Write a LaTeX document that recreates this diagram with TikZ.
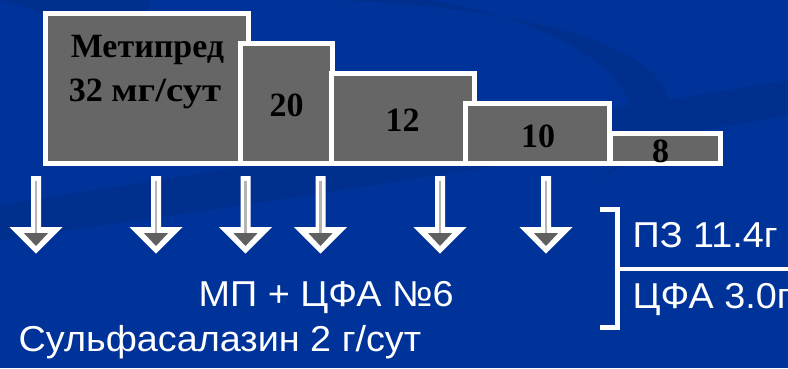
\documentclass[tikz,border=0pt]{standalone}
\usepackage{fontspec}
\setmainfont[FakeStretch=1.05]{Liberation Sans}
\newfontfamily\boxfont{Liberation Serif}
\definecolor{bgblue}{HTML}{003399}
\definecolor{bgdark}{HTML}{002F8E}
\definecolor{boxgray}{HTML}{666666}
\definecolor{headgray}{HTML}{606060}
\definecolor{stemgray}{HTML}{B4B4B4}
\tikzset{
  stepbox/.style={draw=white, line width=5pt, fill=boxgray, inner sep=0pt, line join=miter},
  boxtext/.style={font=\boxfont\bfseries\fontsize{34}{40}\selectfont, text=black, inner sep=0pt, anchor=base},
  wtext/.style={font=\fontsize{36}{42}\selectfont, text=white, inner sep=0pt, anchor=base west},
  arrowwhite/.style={fill=white},
  arrowhead/.style={fill=headgray},
  stemline/.style={fill=stemgray},
  bracketline/.style={draw=white, line width=5pt, line join=miter}
}
\begin{document}
\begin{tikzpicture}[x=1pt,y=-1pt]
% background
\fill[bgblue] (0,0) rectangle (788,368);
\useasboundingbox (0,0) rectangle (788,368);
\fill[bgdark] (330,0) .. controls (600,10) and (770,80) .. (600,180)
  .. controls (690,100) and (580,25) .. (430,0) -- cycle;
\fill[bgdark] (0,205) .. controls (250,165) and (550,120) .. (788,80)
  -- (788,115) .. controls (550,160) and (250,205) .. (0,240) -- cycle;
\fill[bgdark] (0,0) .. controls (80,20) and (140,60) .. (150,0) -- cycle;

% steps
\node[stepbox, minimum width=202.4pt, minimum height=150pt] (b1) at (147,88.5) {};
\node[stepbox, minimum width=91.7pt, minimum height=120pt] (b2) at (286.65,103.5) {};
\node[stepbox, minimum width=143.3pt, minimum height=90pt] (b3) at (403.15,118.5) {};
\node[stepbox, minimum width=144pt, minimum height=60pt] (b4) at (537.8,133.5) {};
\node[stepbox, minimum width=110.6pt, minimum height=30pt] (b5) at (665.5,148.5) {};

\node[boxtext] (t1a) at (147.5,57) {Метипред};
\node[boxtext] (t1b) at (145,101.7) {32 \scalebox{1.14}[1]{мг/сут}};
\node[boxtext] (t2) at (286.7,116.7) {20};
\node[boxtext] (t3) at (402.5,131.7) {12};
\node[boxtext] (t4) at (538,147.3) {10};
\node[boxtext] (t5) at (660.5,162.7) {8};

% arrows
\foreach \x in {36,156,245.5,320.5,440,546}{
  \path[arrowwhite] (\x-5,176) -- (\x-5,228) -- (\x-26.5,227) -- (\x+26.5,227)
    -- (\x+5,228) -- (\x+5,176) -- cycle;
  \path[arrowwhite] (\x-26.5,227) -- (\x,253.7) -- (\x+26.5,227) -- cycle;
  \path[stemline] (\x-1.4,181) rectangle (\x+1.4,234);
  \path[arrowhead] (\x-12,233.2) -- (\x,246) -- (\x+12,233.2) -- cycle;
}

% bracket
\coordinate (bt) at (600,209);
\coordinate (bb) at (600,327.5);
\coordinate (bm) at (617.5,268.8);
\coordinate (re) at (790,268.8);
\path[bracketline] (bt) -- (617.5,209) -- (617.5,327.5) -- (bb);
\draw[white, line width=4.3pt] (bm) -- (re);

% texts
\node[wtext] (pz) at (632.5,247.7) {ПЗ 11.4г};
\node[wtext] (cfa) at (632.5,308.3) {ЦФА 3.0г};
\node[wtext] (mp) at (198.5,306.7) {МП + ЦФА №6};
\node[wtext] (sulf) at (18.5,351) {Сульфасалазин 2 г/сут};
\end{tikzpicture}
\end{document}
